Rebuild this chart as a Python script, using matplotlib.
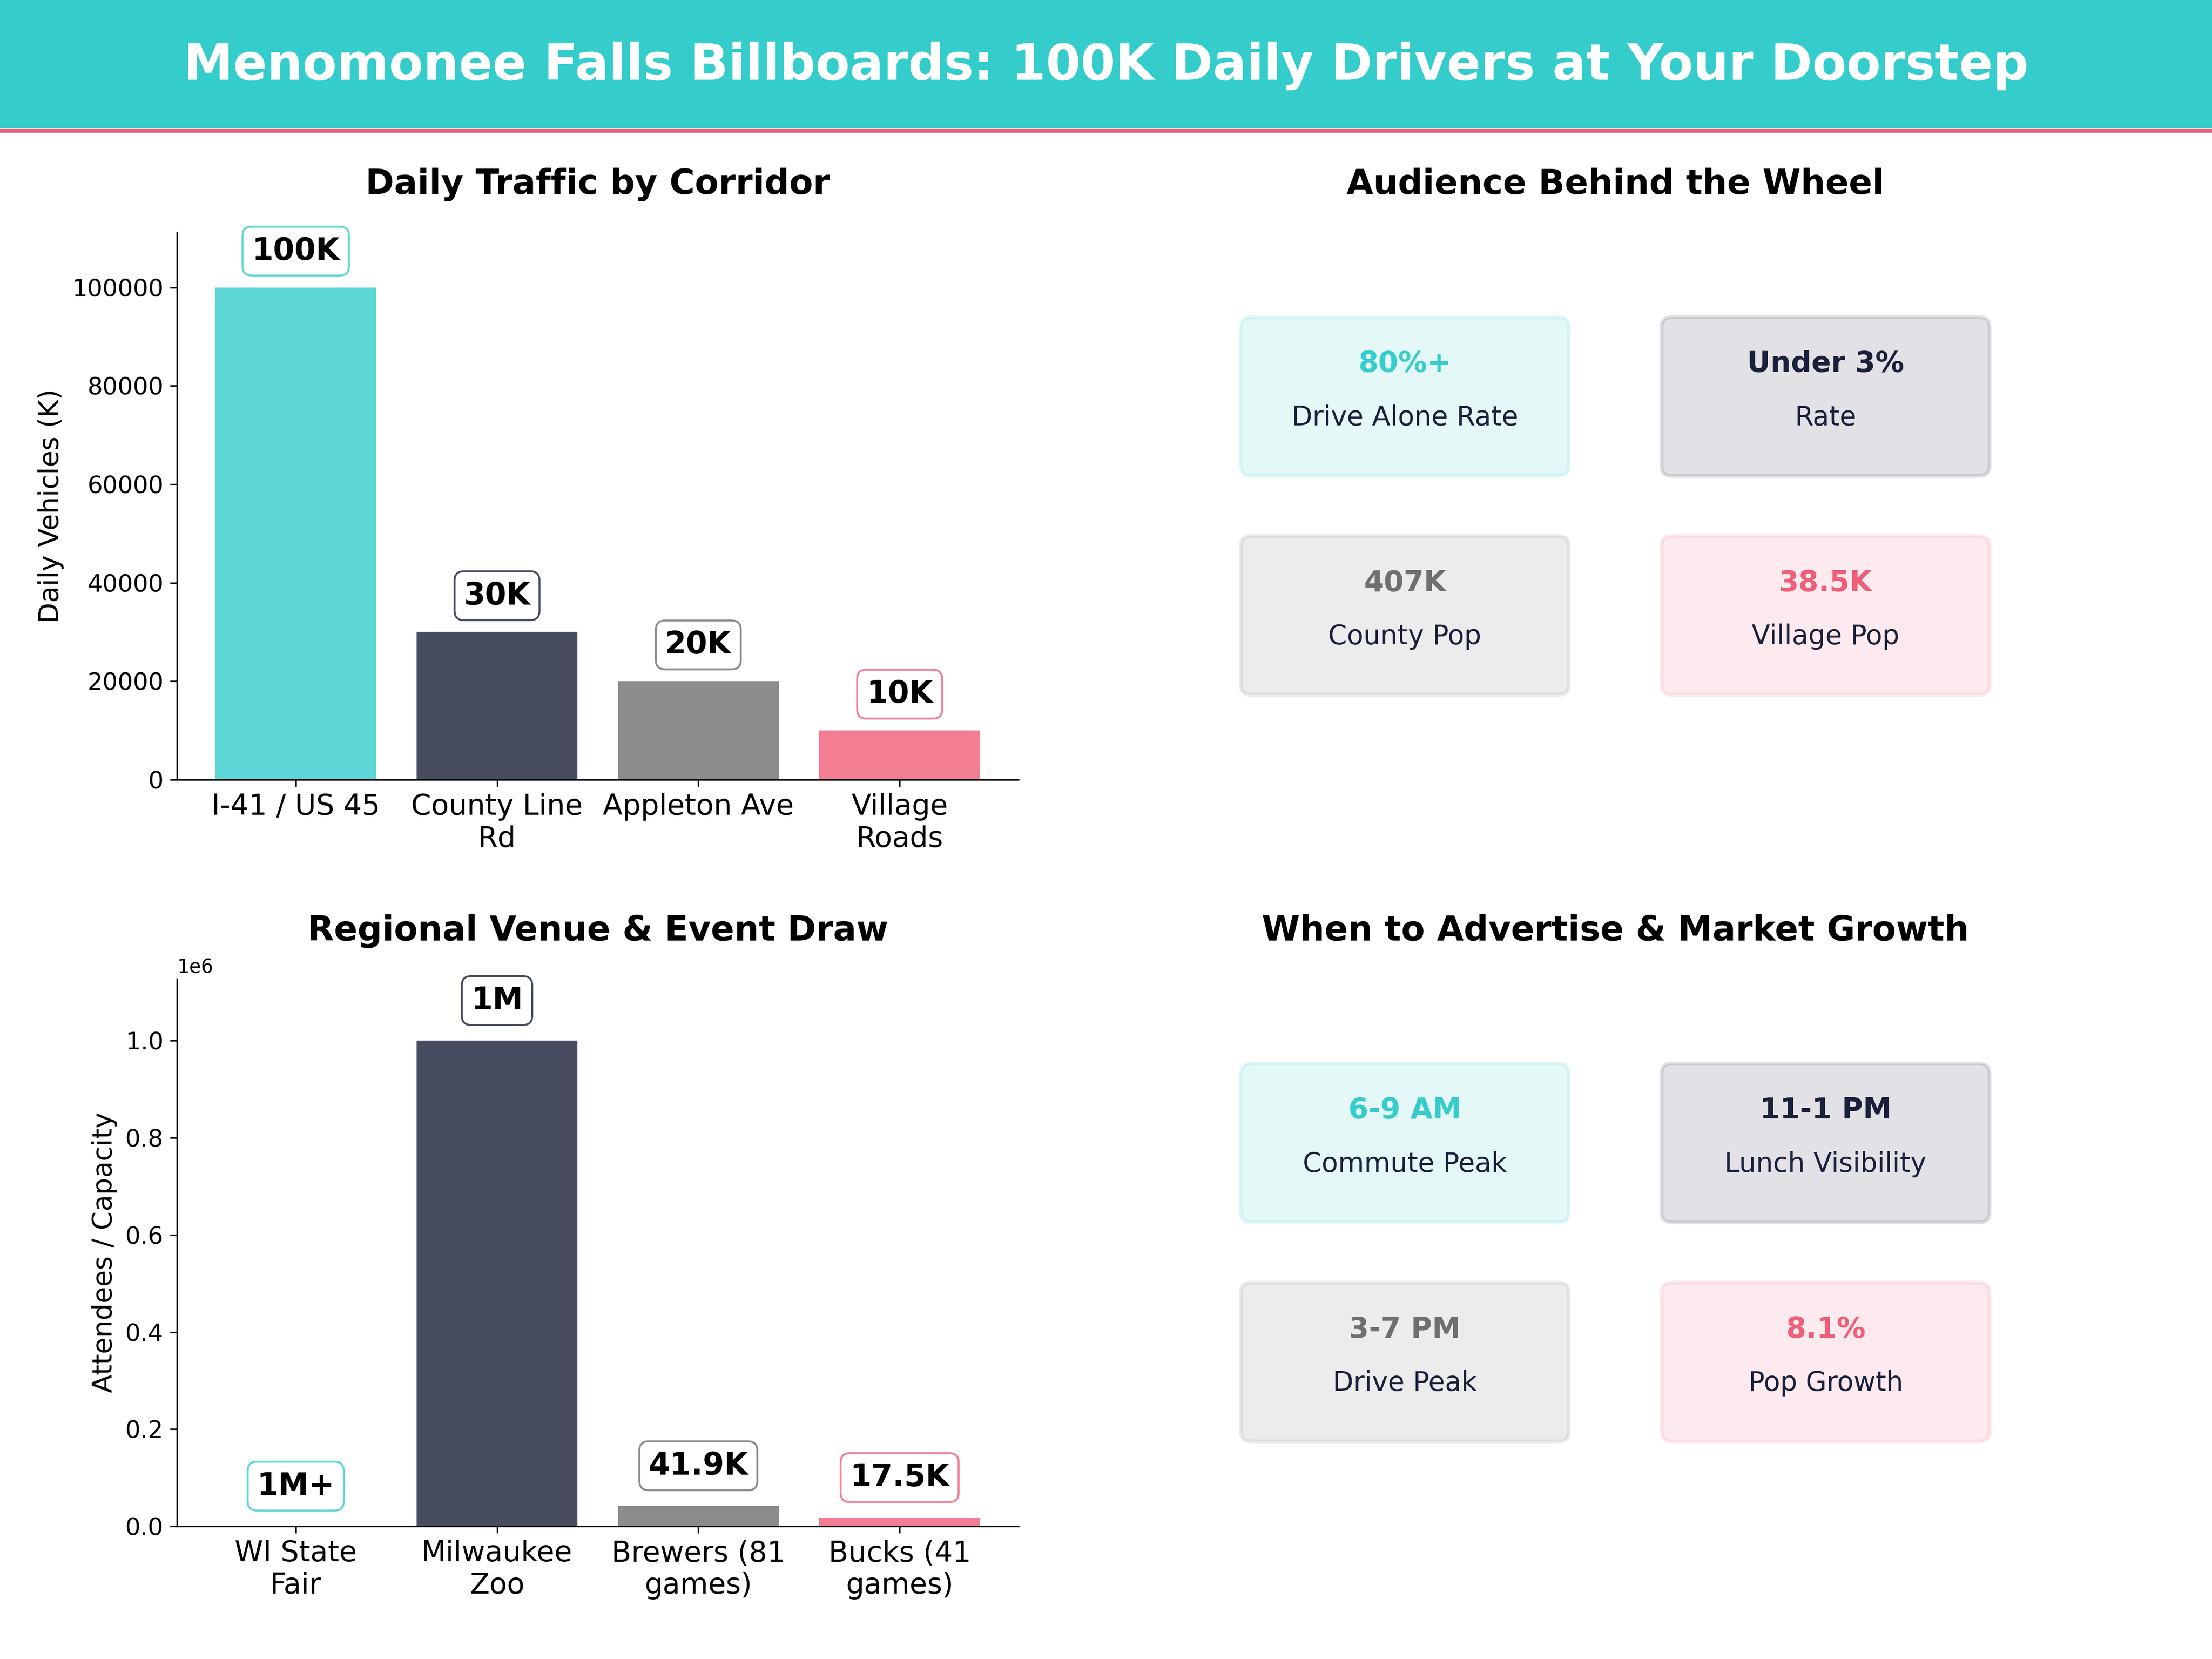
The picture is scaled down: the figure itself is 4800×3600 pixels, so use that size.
import matplotlib
matplotlib.use("Agg")
import matplotlib.pyplot as plt
from matplotlib.patches import Rectangle, FancyBboxPatch
from matplotlib.lines import Line2D

# ---------------- data ----------------
corridors = ["I-41 / US 45", "County Line\nRd", "Appleton Ave", "Village\nRoads"]
traffic = [100000, 30000, 20000, 10000]
traffic_labels = ["100K", "30K", "20K", "10K"]

venues = ["WI State\nFair", "Milwaukee\nZoo", "Brewers (81\ngames)", "Bucks (41\ngames)"]
attendance = [0, 1000000, 41900, 17500]
attendance_labels = ["1M+", "1M", "41.9K", "17.5K"]

audience_values = ["80%+", "Under 3%", "407K", "38.5K"]
audience_labels = ["Drive Alone Rate", "Rate", "County Pop", "Village Pop"]

timing_values = ["6-9 AM", "11-1 PM", "3-7 PM", "8.1%"]
timing_labels = ["Commute Peak", "Lunch Visibility", "Drive Peak", "Pop Growth"]

title = "Menomonee Falls Billboards: 100K Daily Drivers at Your Doorstep"

# ---------------- style ----------------
TEAL = "#35CDCB"
NAVY = "#1A1F3A"
GRAY = "#6F6F6F"
PINK = "#F05E78"
palette = [TEAL, NAVY, GRAY, PINK]

plt.rcParams["font.family"] = ["DejaVu Sans"]

fig = plt.figure(figsize=(16, 12), dpi=300)

# header band
fig.patches.append(Rectangle((0, 0.9228), 1, 0.0772, transform=fig.transFigure,
                             facecolor="#35CCCC", edgecolor="none", zorder=0))
fig.lines.append(Line2D([0, 1], [0.9215, 0.9215], transform=fig.transFigure,
                        color=PINK, lw=2.2, zorder=1))
fig.text(0.5, 0.952, title, ha="center", va="baseline", fontsize=26,
         fontweight="bold", color="white")

AX_W, AX_H = 0.3804, 0.33
ax_tl = fig.add_axes([0.080, 0.530, AX_W, AX_H])
ax_tr = fig.add_axes([0.540, 0.530, AX_W, AX_H])
ax_bl = fig.add_axes([0.080, 0.080, AX_W, AX_H])
ax_br = fig.add_axes([0.540, 0.080, AX_W, AX_H])


def bar_panel(ax, cats, vals, labels, ttl, ylab, ytop, off):
    x = list(range(len(cats)))
    ax.bar(x, vals, color=palette, alpha=0.8, width=0.8)
    for i, (v, lab) in enumerate(zip(vals, labels)):
        ax.annotate(lab, (i, v), xytext=(0, off), textcoords="offset points",
                    ha="center", va="bottom", fontsize=16, fontweight="bold",
                    color="black",
                    bbox=dict(boxstyle="round,pad=0.3", facecolor="white",
                              edgecolor=palette[i], alpha=0.8, lw=1.0))
    ax.set_xticks(x)
    ax.set_xticklabels(cats)
    ax.tick_params(axis="x", labelsize=15)
    ax.tick_params(axis="y", labelsize=12.5)
    ax.set_ylim(0, ytop)
    ax.set_ylabel(ylab, fontsize=14)
    ax.set_title(ttl, fontsize=18, fontweight="bold", pad=20)
    ax.spines["top"].set_visible(False)
    ax.spines["right"].set_visible(False)


bar_panel(ax_tl, corridors, traffic, traffic_labels,
          "Daily Traffic by Corridor", "Daily Vehicles (K)", 111200, 11)
bar_panel(ax_bl, venues, attendance, attendance_labels,
          "Regional Venue & Event Draw", "Attendees / Capacity", 1127500, 13)

ASPECT = (AX_W * 16) / (AX_H * 12)


def card_panel(ax, values, labels, ttl):
    ax.set_xlim(0, 1)
    ax.set_ylim(0, 1)
    ax.axis("off")
    ax.set_title(ttl, fontsize=18, fontweight="bold", pad=20)
    centers = [(0.25, 0.70), (0.75, 0.70), (0.25, 0.30), (0.75, 0.30)]
    w, h = 0.39, 0.29
    for (cx, cy), val, lab, col in zip(centers, values, labels, palette):
        patch = FancyBboxPatch((cx - w / 2, cy - h / 2), w, h,
                               boxstyle="round,pad=0,rounding_size=0.012",
                               mutation_aspect=ASPECT,
                               facecolor=col, edgecolor=col, lw=2, alpha=0.125)
        ax.add_patch(patch)
        ax.text(cx, cy + 0.059, val, ha="center", va="center", fontsize=15,
                fontweight="bold", color=col)
        ax.text(cx, cy - 0.039, lab, ha="center", va="center", fontsize=14,
                color=NAVY)


card_panel(ax_tr, audience_values, audience_labels, "Audience Behind the Wheel")
card_panel(ax_br, timing_values, timing_labels, "When to Advertise & Market Growth")

fig.savefig("out.png", dpi=300)
